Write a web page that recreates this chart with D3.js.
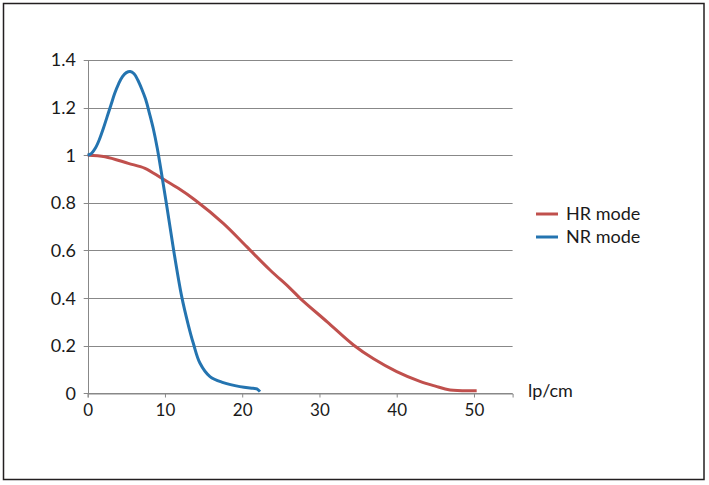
<!DOCTYPE html>
<html>
<head>
<meta charset="utf-8">
<script src="https://cdn.jsdelivr.net/npm/d3@7"></script>
<style>
	body { margin: 0; background: #fff; }
	text { font-family: Lato, "Open Sans", sans-serif; fill: #1a1a1a; }
</style>
</head>
<body>
<div id="chart"></div>
<script>
// values
var hrX = [0, 2.24, 5.26, 7.42, 9.58, 11.73, 13.89, 17.55, 20.58, 23.6, 26.2, 27.5, 31, 34.4, 37, 40, 43, 45, 46.9, 50.35]
var hrY = [1.0, 0.994, 0.966, 0.945, 0.903, 0.861, 0.812, 0.714, 0.616, 0.518, 0.441, 0.399, 0.30, 0.203, 0.145, 0.091, 0.05, 0.03, 0.014, 0.011]

var nrX = [0, 0.5, 1, 1.5, 2, 2.5, 3, 3.5, 4, 4.5, 5, 5.5, 6, 6.5, 7, 7.5, 8, 8.5, 9, 9.5, 10.22, 11.08, 12.17, 13.0, 13.67, 14.54, 15.83, 17.55, 19.7, 21.4, 21.9, 22.3]
var nrY = [1.0, 1.008, 1.03, 1.065, 1.11, 1.16, 1.21, 1.26, 1.30, 1.33, 1.347, 1.352, 1.342, 1.315, 1.278, 1.235, 1.175, 1.11, 1.03, 0.935, 0.79, 0.61, 0.406, 0.29, 0.21, 0.126, 0.07, 0.045, 0.028, 0.021, 0.019, 0.007]

var xTicks = [0, 10, 20, 30, 40, 50]
var yTicks = [0, 0.2, 0.4, 0.6, 0.8, 1, 1.2, 1.4]
var seriesNames = ["HR mode", "NR mode"]
var seriesColors = ["#c0504d", "#2474b0"]
var xTitle = "lp/cm"

let width = 709
let height = 485

const svg = d3.select("#chart")
	.append("svg")
	.attr("width", width)
	.attr("height", height)

// frame round the whole picture
svg.append("rect")
	.attr("x", 3.5).attr("y", 3.5)
	.attr("width", 700.5).attr("height", 476)
	.attr("fill", "none")
	.attr("stroke", "#231f20")
	.attr("stroke-width", 1.5)

let x = d3.scaleLinear().domain([0, 55]).range([87.7, 512.6])
let y = d3.scaleLinear().domain([0, 1.4]).range([393.3, 60])

// gridlines
svg.append("g")
	.selectAll("line")
	.data(yTicks)
	.enter().append("line")
	.attr("x1", x(0) - 4).attr("x2", x(55))
	.attr("y1", d => Math.round(y(d)) + 0.5)
	.attr("y2", d => Math.round(y(d)) + 0.5)
	.attr("stroke", "#888")
	.attr("stroke-width", 1)

// y axis line
svg.append("line")
	.attr("x1", Math.round(x(0)) + 0.5).attr("x2", Math.round(x(0)) + 0.5)
	.attr("y1", Math.round(y(1.4)) + 0.5).attr("y2", Math.round(y(0)) + 0.5)
	.attr("stroke", "#888")

// x axis
const xAxis = svg.append("g")
	.attr("transform", "translate(0," + (Math.round(y(0)) + 0.5) + ")")
	.call(d3.axisBottom(x).tickValues(xTicks).tickSize(4).tickPadding(6).tickFormat(d3.format("d")))
xAxis.select(".domain").attr("stroke", "#888")
xAxis.selectAll(".tick line").attr("stroke", "#888")
xAxis.selectAll(".tick text").style("font-size", "17px").attr("fill", "#1a1a1a")

// y labels
svg.append("g")
	.selectAll("text")
	.data(yTicks)
	.enter().append("text")
	.attr("x", 76)
	.attr("y", d => y(d))
	.attr("dy", "0.36em")
	.attr("text-anchor", "end")
	.style("font-size", "18px")
	.text(d => d3.format("~g")(d))

svg.append("text")
	.attr("x", 528)
	.attr("y", 397)
	.style("font-size", "18px")
	.text(xTitle)

let line = d3.line()
	.x(d => x(d[0]))
	.y(d => y(d[1]))
	.curve(d3.curveCatmullRom.alpha(0.5))

let series = [
	d3.zip(hrX, hrY),
	d3.zip(nrX, nrY)
]

svg.append("g")
	.selectAll("path")
	.data(series)
	.enter().append("path")
	.attr("d", line)
	.attr("fill", "none")
	.attr("stroke", (d, i) => seriesColors[i])
	.attr("stroke-width", 3)
	.attr("stroke-linejoin", "round")

// legend
const legend = svg.append("g")
	.selectAll("g")
	.data(seriesNames)
	.enter().append("g")
	.attr("transform", (d, i) => "translate(536," + (214 + i * 23) + ")")

legend.append("line")
	.attr("x1", 0).attr("x2", 22)
	.attr("stroke", (d, i) => seriesColors[i])
	.attr("stroke-width", 3)

legend.append("text")
	.attr("x", 30)
	.attr("dy", "0.36em")
	.style("font-size", "18px")
	.text(d => d)
</script>
</body>
</html>
